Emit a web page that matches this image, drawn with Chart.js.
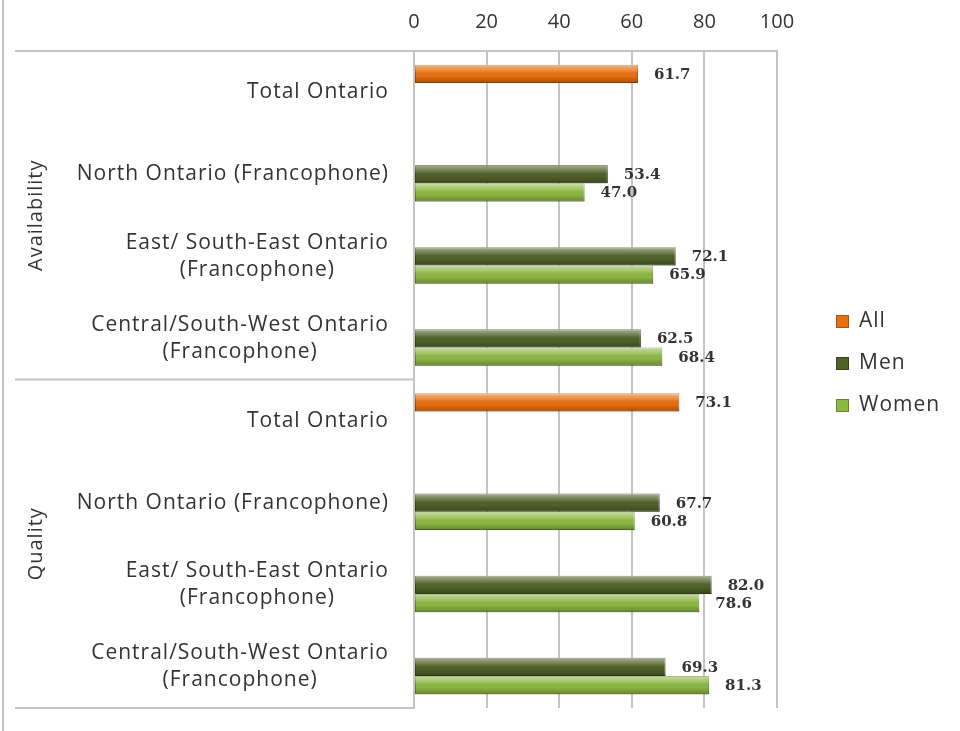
<!DOCTYPE html>
<html>
<head>
<meta charset="utf-8">
<script src="https://cdn.jsdelivr.net/npm/chart.js@4.4.1/dist/chart.umd.min.js"></script>
<style>
  html, body { margin: 0; padding: 0; background: #fff; }
</style>
</head>
<body>
<canvas id="barChart" width="960" height="731"></canvas>
<script>
// Chart values
const categories = [
    ['Total Ontario'],
    ['North Ontario (Francophone)'],
    ['East/ South-East Ontario', '(Francophone)'],
    ['Central/South-West Ontario', '(Francophone)'],
    ['Total Ontario'],
    ['North Ontario (Francophone)'],
    ['East/ South-East Ontario', '(Francophone)'],
    ['Central/South-West Ontario', '(Francophone)']
];
const groups = ['Availability', 'Quality'];
const groupSize = 4;
const seriesNames = ['All', 'Men', 'Women'];
const allValues = [61.7, null, null, null, 73.1, null, null, null];
const menValues = [null, 53.4, 72.1, 62.5, null, 67.7, 82.0, 69.3];
const womenValues = [null, 47.0, 65.9, 68.4, null, 60.8, 78.6, 81.3];
const xTicks = [0, 20, 40, 60, 80, 100];

const textColor = '#333333';
const lineColor = '#c4c4c4';
const sansFont = '"Open Sans", "DejaVu Sans", sans-serif';

// Shine over each bar + value labels at the bar ends
Chart.register({
    id: 'barDecor',
    afterDatasetsDraw: function(chart) {
        const ctx = chart.ctx;
        ctx.save();
        chart.data.datasets.forEach((dataset, i) => {
            chart.getDatasetMeta(i).data.forEach((bar, index) => {
                const value = dataset.data[index];
                if (value === null) return;
                const top = bar.y - bar.height / 2;
                const grad = ctx.createLinearGradient(0, top, 0, top + bar.height);
                grad.addColorStop(0, 'rgba(255,255,255,0.5)');
                grad.addColorStop(0.35, 'rgba(255,255,255,0.15)');
                grad.addColorStop(0.6, 'rgba(0,0,0,0)');
                grad.addColorStop(1, 'rgba(0,0,0,0.28)');
                ctx.fillStyle = grad;
                ctx.fillRect(bar.base, top, bar.x - bar.base, bar.height);

                ctx.fillStyle = textColor;
                ctx.font = 'bold 15px "DejaVu Serif", serif';
                ctx.textAlign = 'left';
                ctx.textBaseline = 'middle';
                ctx.fillText(value.toFixed(1), bar.x + 16, bar.y + 1);
            });
        });
        ctx.restore();
    }
});

// Category labels, group labels, divider lines and legend
Chart.register({
    id: 'tableLabels',
    afterDraw: function(chart) {
        const ctx = chart.ctx;
        const area = chart.chartArea;
        const yScale = chart.scales.y;
        ctx.save();

        ctx.strokeStyle = lineColor;
        ctx.lineWidth = 2;
        ctx.beginPath();
        ctx.moveTo(3, 0);
        ctx.lineTo(3, chart.height);
        const edges = [area.top];
        for (let g = 1; g < groups.length; g++) {
            edges.push((yScale.getPixelForValue(g * groupSize - 1) + yScale.getPixelForValue(g * groupSize)) / 2);
        }
        edges.push(area.bottom);
        edges.forEach(e => {
            ctx.moveTo(15, e);
            ctx.lineTo(area.left, e);
        });
        ctx.stroke();

        // category labels: lines centred on each other, block right aligned
        ctx.fillStyle = textColor;
        ctx.font = '21px ' + sansFont;
        ctx.letterSpacing = '1px';
        ctx.textAlign = 'center';
        ctx.textBaseline = 'middle';
        const lineH = 27;
        categories.forEach((lines, i) => {
            const yc = yScale.getPixelForValue(i);
            const maxW = Math.max(...lines.map(l => ctx.measureText(l).width));
            const cx = area.left - 25 - maxW / 2;
            lines.forEach((l, j) => {
                ctx.fillText(l, cx, yc + (j - (lines.length - 1) / 2) * lineH);
            });
        });

        // group labels, rotated
        ctx.font = '20px ' + sansFont;
        groups.forEach((name, g) => {
            const mid = (edges[g] + edges[g + 1]) / 2;
            ctx.save();
            ctx.translate(36, mid);
            ctx.rotate(-Math.PI / 2);
            ctx.fillText(name, 0, 0);
            ctx.restore();
        });

        // legend
        ctx.font = '21px ' + sansFont;
        ctx.textAlign = 'left';
        chart.data.datasets.forEach((dataset, k) => {
            const ly = 321 + k * 42;
            ctx.fillStyle = dataset.backgroundColor;
            ctx.fillRect(836, ly - 6, 13, 13);
            ctx.strokeStyle = dataset.borderColor;
            ctx.lineWidth = 1;
            ctx.strokeRect(836.5, ly - 5.5, 12, 12);
            ctx.fillStyle = textColor;
            ctx.fillText(dataset.label, 859, ly);
        });
        ctx.restore();
    }
});

const ctx = document.getElementById('barChart').getContext('2d');
const barChart = new Chart(ctx, {
    type: 'bar',
    data: {
        labels: categories,
        datasets: [{
            label: seriesNames[0],
            data: allValues,
            backgroundColor: '#E8700F',
            borderColor: '#A9520C'
        }, {
            label: seriesNames[1],
            data: menValues,
            backgroundColor: '#4F6228',
            borderColor: '#374619'
        }, {
            label: seriesNames[2],
            data: womenValues,
            backgroundColor: '#8DB843',
            borderColor: '#65862C'
        }]
    },
    options: {
        responsive: false,
        animation: false,
        indexAxis: 'y',
        datasets: {
            bar: {
                categoryPercentage: 0.667,
                barPercentage: 1,
                borderWidth: 1,
                borderSkipped: false
            }
        },
        layout: {
            padding: { left: 0, right: 183, top: 0, bottom: 23 }
        },
        plugins: {
            legend: { display: false },
            tooltip: { enabled: false }
        },
        scales: {
            x: {
                position: 'top',
                min: xTicks[0],
                max: xTicks[xTicks.length - 1],
                ticks: {
                    stepSize: xTicks[1] - xTicks[0],
                    padding: 17,
                    color: textColor,
                    font: { family: sansFont, size: 20 }
                },
                grid: { color: lineColor, lineWidth: 2, drawTicks: false },
                border: { color: lineColor, width: 2 },
                afterFit: function(scale) { scale.height = 51; }
            },
            y: {
                ticks: { display: false },
                grid: { display: false },
                border: { color: lineColor, width: 2 },
                afterFit: function(scale) { scale.width = 414; }
            }
        }
    }
});
</script>
</body>
</html>
